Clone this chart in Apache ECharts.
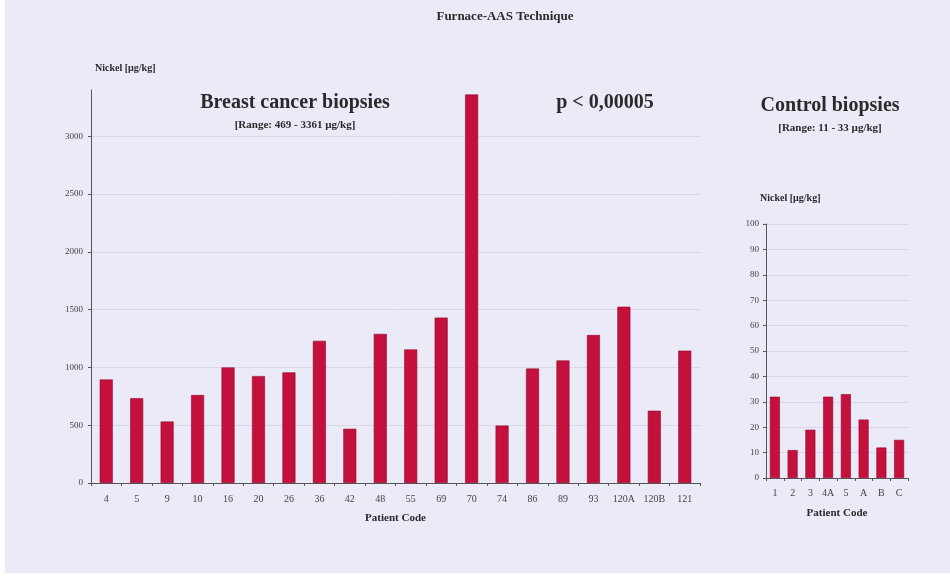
<!DOCTYPE html>
<html>
<head>
<meta charset="utf-8">
<script src="https://cdn.jsdelivr.net/npm/echarts@6/dist/echarts.min.js"></script>
<style>
html,body{margin:0;padding:0;background:#fff;}
#c{width:950px;height:577px;}
</style>
</head>
<body>
<div id="c"></div>
<script>
const cancerCodes = ['4','5','9','10','16','20','26','36','42','48','55','69','70','74','86','89','93','120A','120B','121'];
const cancerValues = [895,733,532,761,1000,925,957,1230,469,1290,1155,1431,3361,497,990,1060,1280,1525,625,1145];
const controlCodes = ['1','2','3','4A','5','A','B','C'];
const controlValues = [32,11,19,32,33,23,12,15];

const serif = '"Liberation Serif", "DejaVu Serif", serif';
const barColor = '#c4103d';
const txt = '#2a2a2a';
const gridCol = '#d9d7e8';

const chart = echarts.init(document.getElementById('c'));
chart.setOption({
  backgroundColor: '#ffffff',
  animation: false,
  graphic: [
    {type:'rect', shape:{x:5,y:0,width:945,height:573}, style:{fill:'#ebeaf7'}, z:-10},
    {type:'text', style:{text:'Furnace-AAS Technique', x:505, y:17, textAlign:'center', textVerticalAlign:'middle', font:'bold 13px '+serif, fill:txt}},
    {type:'text', style:{text:'Nickel [µg/kg]', x:95, y:68, textVerticalAlign:'middle', font:'bold 10px '+serif, fill:txt}},
    {type:'text', style:{text:'Breast cancer biopsies', x:295, y:103, textAlign:'center', textVerticalAlign:'middle', font:'bold 20px '+serif, fill:txt}},
    {type:'text', style:{text:'[Range: 469 - 3361 µg/kg]', x:295, y:125, textAlign:'center', textVerticalAlign:'middle', font:'bold 11px '+serif, fill:txt}},
    {type:'text', style:{text:'p < 0,00005', x:605, y:103, textAlign:'center', textVerticalAlign:'middle', font:'bold 20px '+serif, fill:txt}},
    {type:'text', style:{text:'Control biopsies', x:830, y:106, textAlign:'center', textVerticalAlign:'middle', font:'bold 20px '+serif, fill:txt}},
    {type:'text', style:{text:'[Range: 11 - 33 µg/kg]', x:830, y:128, textAlign:'center', textVerticalAlign:'middle', font:'bold 11px '+serif, fill:txt}},
    {type:'text', style:{text:'Nickel [µg/kg]', x:760, y:198, textVerticalAlign:'middle', font:'bold 10px '+serif, fill:txt}}
  ],
  grid: [
    {left:91, right:250, top:90, bottom:94},
    {left:766, right:42, top:224, bottom:99}
  ],
  xAxis: [
    {type:'category', gridIndex:0, data:cancerCodes,
     name:'Patient Code', nameLocation:'middle', nameGap:30,
     nameTextStyle:{fontFamily:serif, fontWeight:'bold', fontSize:11, color:txt},
     axisLine:{lineStyle:{color:'#555', width:1}},
     axisTick:{show:true, length:3, lineStyle:{color:'#555'}},
     axisLabel:{fontFamily:serif, fontSize:10, color:'#444', margin:11}},
    {type:'category', gridIndex:1, data:controlCodes,
     name:'Patient Code', nameLocation:'middle', nameGap:30,
     nameTextStyle:{fontFamily:serif, fontWeight:'bold', fontSize:11, color:txt},
     axisLine:{lineStyle:{color:'#555', width:1}},
     axisTick:{show:true, length:3, lineStyle:{color:'#555'}},
     axisLabel:{fontFamily:serif, fontSize:10, color:'#444', margin:10, interval:0}}
  ],
  yAxis: [
    {type:'value', gridIndex:0, min:0, max:3400, interval:500,
     axisLine:{show:true, lineStyle:{color:'#555'}},
     axisTick:{show:true, length:3, lineStyle:{color:'#555'}},
     axisLabel:{fontFamily:serif, fontSize:9, color:'#444', margin:8, showMaxLabel:false,
       formatter: v => String(v)},
     splitLine:{lineStyle:{color:[gridCol,gridCol,gridCol,gridCol,gridCol,gridCol,gridCol,'rgba(0,0,0,0)']}}},
    {type:'value', gridIndex:1, min:0, max:100, interval:10,
     axisLine:{show:true, lineStyle:{color:'#555'}},
     axisTick:{show:true, length:3, lineStyle:{color:'#555'}},
     axisLabel:{fontFamily:serif, fontSize:9, color:'#444', margin:7},
     splitLine:{lineStyle:{color:gridCol}}}
  ],
  series: [
    {type:'bar', xAxisIndex:0, yAxisIndex:0, data:cancerValues, barWidth:13,
     itemStyle:{color:barColor, borderColor:'#8e0a2c', borderWidth:0.6}},
    {type:'bar', xAxisIndex:1, yAxisIndex:1, data:controlValues, barWidth:10,
     itemStyle:{color:barColor, borderColor:'#8e0a2c', borderWidth:0.6}}
  ]
});
</script>
</body>
</html>
